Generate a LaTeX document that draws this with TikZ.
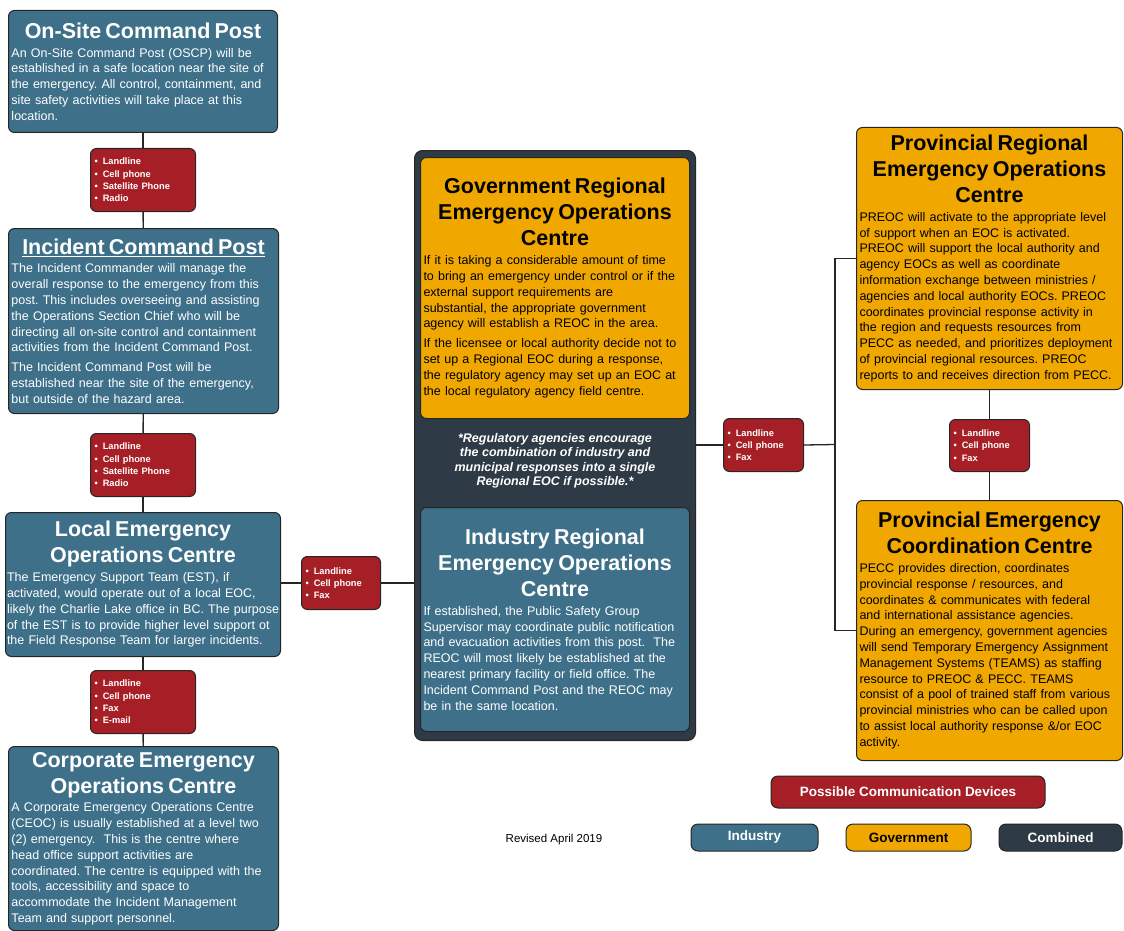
\documentclass[tikz,border=0pt]{standalone}
\usepackage{fontspec}
\setmainfont{Liberation Sans}
\usetikzlibrary{positioning}

\definecolor{indblue}{HTML}{3E7089}
\definecolor{govgold}{HTML}{F0A800}
\definecolor{devred}{HTML}{A71F26}
\definecolor{combdark}{HTML}{2E3A45}

\newcommand{\boxtitle}[1]{{\centering\fontsize{21.5}{26}\selectfont\bfseries #1\par}\vspace{3pt}}
\frenchspacing

\begin{document}
\begin{tikzpicture}[x=1pt, y=-1pt,
  card/.style={draw=black!85, line width=1pt, rounded corners=6pt, anchor=north west,
    inner xsep=3pt, inner ysep=2pt, align=left, font=\fontsize{12.5}{15.8}\selectfont},
  indbox/.style={card, fill=indblue, text=white},
  govbox/.style={card, fill=govgold, text=black},
  devbox/.style={card, fill=devred, text=white, inner xsep=4pt, font=\bfseries\fontsize{9.3}{12.3}\selectfont},
  legendbox/.style={draw=black!85, line width=1pt, rounded corners=7pt, minimum height=27,
    font=\bfseries\fontsize{13.5}{16}\selectfont},
  link/.style={draw=black!85, line width=1.3pt}
]
\useasboundingbox (0,0) rectangle (1124,931);

% left column, industry side
\node[indbox, text width=263, minimum height=122] (oscp) at (8,10) {\boxtitle{On-Site Command Post}
An On-Site Command Post (OSCP) will be\\ established in a safe location near the site of\\ the emergency. All control, containment, and\\ site safety activities will take place at this\\ location.};
\node[devbox, text width=97, minimum height=63] (dev1) at (90,148) {\textbullet\hspace{5pt}Landline\\ \textbullet\hspace{5pt}Cell phone\\ \textbullet\hspace{5pt}Satellite Phone\\ \textbullet\hspace{5pt}Radio};
\node[indbox, text width=264, minimum height=185] (icp) at (8,228) {\boxtitle{\underline{Incident Command Post}}
The Incident Commander will manage the\\ overall response to the emergency from this\\ post. This includes overseeing and assisting\\ the Operations Section Chief who will be\\ directing all on-site control and containment\\ activities from the Incident Command Post.\\[4pt] The Incident Command Post will be\\ established near the site of the emergency,\\ but outside of the hazard area.};
\node[devbox, text width=97, minimum height=63] (dev2) at (90,433) {\textbullet\hspace{5pt}Landline\\ \textbullet\hspace{5pt}Cell phone\\ \textbullet\hspace{5pt}Satellite Phone\\ \textbullet\hspace{5pt}Radio};
\node[indbox, text width=272, inner xsep=1.5pt, minimum height=144] (leoc) at (5,512) {\boxtitle{Local Emergency\\ Operations Centre}
The Emergency Support Team (EST), if\\ activated, would operate out of a local EOC,\\ \mbox{likely the Charlie Lake office in BC. The purpose}\\ of the EST is to provide higher level support ot\\ the Field Response Team for larger incidents.};
\node[devbox, text width=71, minimum height=53] (devL) at (301,556) {\textbullet\hspace{5pt}Landline\\ \textbullet\hspace{5pt}Cell phone\\ \textbullet\hspace{5pt}Fax};
\node[devbox, text width=97, minimum height=63] (dev3) at (90,670) {\textbullet\hspace{5pt}Landline\\ \textbullet\hspace{5pt}Cell phone\\ \textbullet\hspace{5pt}Fax\\ \textbullet\hspace{5pt}E-mail};
\node[indbox, text width=264, minimum height=184] (ceoc) at (8,746) {\boxtitle{Corporate Emergency\\ Operations Centre}
A Corporate Emergency Operations Centre\\ (CEOC) is usually established at a level two\\ (2) emergency.\ \ This is the centre where\\ head office support activities are\\ coordinated. The centre is equipped with the\\ tools, accessibility and space to\\ accommodate the Incident Management\\ Team and support personnel.};

% combined regional block
\node[draw=black!85, fill=combdark, line width=1pt, rounded corners=8pt, anchor=north west,
  minimum width=281, minimum height=590] (comb) at (414,150) {};
\node[govbox, text width=263, minimum height=261] (greoc) at (420,157) {\boxtitle{Government Regional\\ Emergency Operations\\ Centre}
If it is taking a considerable amount of time\\ to bring an emergency under control or if the\\ external support requirements are\\ substantial, the appropriate government\\ agency will establish a REOC in the area.\\[4pt] If the licensee or local authority decide not to\\ set up a Regional EOC during a response,\\ the regulatory agency may set up an EOC at\\ the local regulatory agency field centre.};
\node[text=white, align=center, font=\bfseries\itshape\fontsize{12.5}{14.5}\selectfont] (note) at (555,461)
  {*Regulatory agencies encourage\\ the combination of industry and\\ municipal responses into a single\\ Regional EOC if possible.*};
\node[indbox, text width=263, minimum height=224] (ireoc) at (420,507) {\boxtitle{Industry Regional\\ Emergency Operations\\ Centre}
If established, the Public Safety Group\\ Supervisor may coordinate public notification\\ and evacuation activities from this post.\ \ The\\ REOC will most likely be established at the\\ nearest primary facility or field office. The\\ Incident Command Post and the REOC may\\ be in the same location.};

% right column, government side
\node[devbox, text width=72, minimum height=53] (devM) at (723,418) {\textbullet\hspace{5pt}Landline\\ \textbullet\hspace{5pt}Cell phone\\ \textbullet\hspace{5pt}Fax};
\node[govbox, text width=260, minimum height=262] (preoc) at (856,127) {\boxtitle{Provincial Regional\\ Emergency Operations\\ Centre}
PREOC will activate to the appropriate level\\ of support when an EOC is activated.\\ PREOC will support the local authority and\\ agency EOCs as well as coordinate\\ information exchange between ministries /\\ agencies and local authority EOCs. PREOC\\ coordinates provincial response activity in\\ the region and requests resources from\\ PECC as needed, and prioritizes deployment\\ of provincial regional resources. PREOC\\ reports to and receives direction from PECC.};
\node[devbox, text width=72, minimum height=52] (devR) at (949,419) {\textbullet\hspace{5pt}Landline\\ \textbullet\hspace{5pt}Cell phone\\ \textbullet\hspace{5pt}Fax};
\node[govbox, text width=260, minimum height=260] (pecc) at (856,500) {\boxtitle{Provincial Emergency\\ Coordination Centre}
PECC provides direction, coordinates\\ provincial response / resources, and\\ coordinates \& communicates with federal\\ and international assistance agencies.\\ During an emergency, government agencies\\ will send Temporary Emergency Assignment\\ Management Systems (TEAMS) as staffing\\ resource to PREOC \& PECC. TEAMS\\ consist of a pool of trained staff from various\\ provincial ministries who can be called upon\\ to assist local authority response \&/or EOC\\ activity.};

% legend
\node[legendbox, fill=devred, text=white, minimum width=274, minimum height=32] (lgdev) at (908,792) {Possible Communication Devices};
\node[legendbox, fill=indblue, text=white, minimum width=127] (lgind) at (754.5,837.5) {Industry};
\node[legendbox, fill=govgold, minimum width=125, right=27pt of lgind] (lggov) {Government};
\node[legendbox, fill=combdark, text=white, minimum width=123, right=27pt of lggov] (lgcomb) {Combined};
\node[font=\fontsize{11.5}{14}\selectfont] (revised) at (554,840) {Revised April 2019};

% connectors
\draw[link] (oscp) -- (dev1);
\draw[link] (dev1) -- (icp);
\draw[link] (icp) -- (dev2);
\draw[link] (dev2) -- (leoc);
\draw[link] (leoc) -- (dev3);
\draw[link] (dev3) -- (ceoc);
\draw[link] (leoc.east |- devL) -- (devL.west);
\draw[link] (devL.east) -- (devL.east -| comb.west);
\draw[link] (comb.east |- devM) -- (devM.west);
\coordinate (trunk) at (835,444.5);
\draw[link] (devM.east) -- (trunk);
\draw[link] (preoc.west) -| (trunk) |- (pecc.west);
\draw[link] (preoc) -- (devR);
\draw[link] (devR) -- (pecc);

\end{tikzpicture}
\end{document}
